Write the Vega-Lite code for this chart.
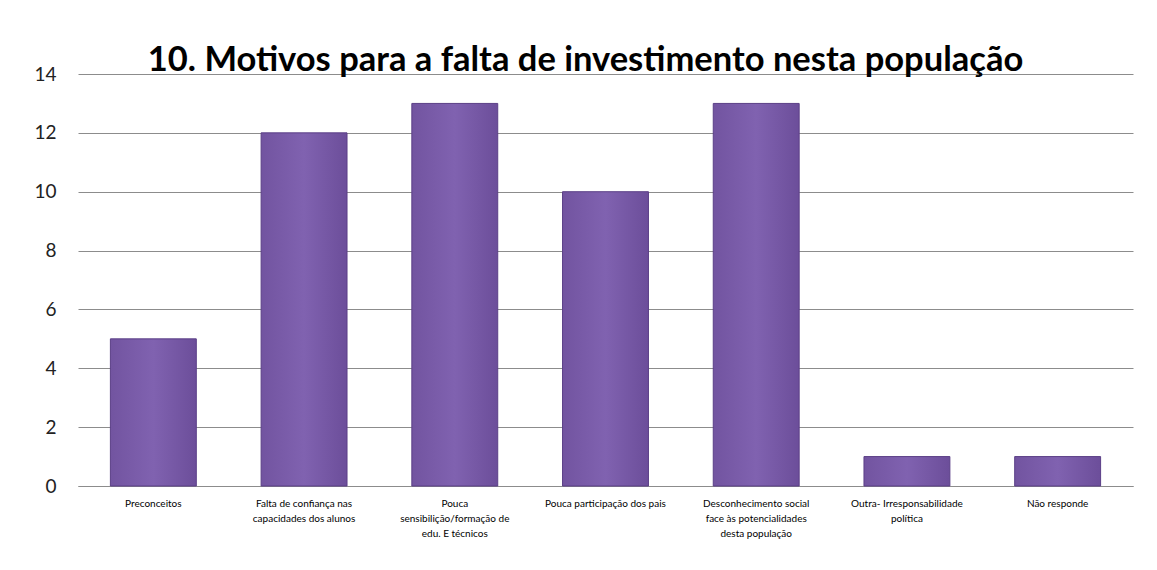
{
  "$schema": "https://vega.github.io/schema/vega-lite/v6.json",
  "autosize": "none",
  "width": 1055,
  "height": 412,
  "padding": {"left": 78, "top": 74, "right": 24, "bottom": 84},
  "background": "white",
  "title": {
    "text": "10. Motivos para a falta de investimento nesta população",
    "font": "Lato",
    "fontSize": 34.5,
    "fontWeight": "bold",
    "color": "#000000",
    "anchor": "middle",
    "dx": -20,
    "offset": -13
  },
  "data": {
    "values": [
      {"motivo": "Preconceitos", "n": 5},
      {"motivo": "Falta de confiança  nas|capacidades  dos alunos", "n": 12},
      {"motivo": "Pouca|sensibilição/formação  de|edu. E técnicos", "n": 13},
      {"motivo": "Pouca participação  dos pais", "n": 10},
      {"motivo": "Desconhecimento  social|face às potencialidades|desta população", "n": 13},
      {"motivo": "Outra- Irresponsabilidade|política", "n": 1},
      {"motivo": "Não responde", "n": 1}
    ]
  },
  "mark": {
    "type": "bar",
    "color": {
      "x1": 0, "y1": 0, "x2": 1, "y2": 0,
      "gradient": "linear",
      "stops": [
        {"offset": 0, "color": "#7254a0"},
        {"offset": 0.5, "color": "#8062b0"},
        {"offset": 1, "color": "#6c4e9a"}
      ]
    },
    "stroke": "#5b3f87",
    "strokeWidth": 1
  },
  "encoding": {
    "x": {
      "field": "motivo",
      "type": "nominal",
      "sort": null,
      "scale": {"paddingInner": 0.43, "paddingOuter": 0.215},
      "axis": {
        "title": null,
        "labelAngle": 0,
        "labelExpr": "split(datum.label, '|')",
        "labelFont": "Lato",
        "labelFontSize": 10,
        "labelColor": "#000000",
        "labelLineHeight": 15,
        "labelPadding": 12,
        "labelBaseline": "top",
        "ticks": false,
        "domain": true,
        "domainColor": "#8c8c8c",
        "grid": false
      }
    },
    "y": {
      "field": "n",
      "type": "quantitative",
      "scale": {"domain": [0, 14]},
      "axis": {
        "title": null,
        "values": [0, 2, 4, 6, 8, 10, 12, 14],
        "labelFont": "Lato",
        "labelFontSize": 19,
        "labelColor": "#222222",
        "labelPadding": 22,
        "ticks": false,
        "domain": false,
        "grid": true,
        "gridColor": "#8c8c8c",
        "gridWidth": 1
      }
    }
  },
  "config": {
    "view": {"stroke": null}
  }
}
